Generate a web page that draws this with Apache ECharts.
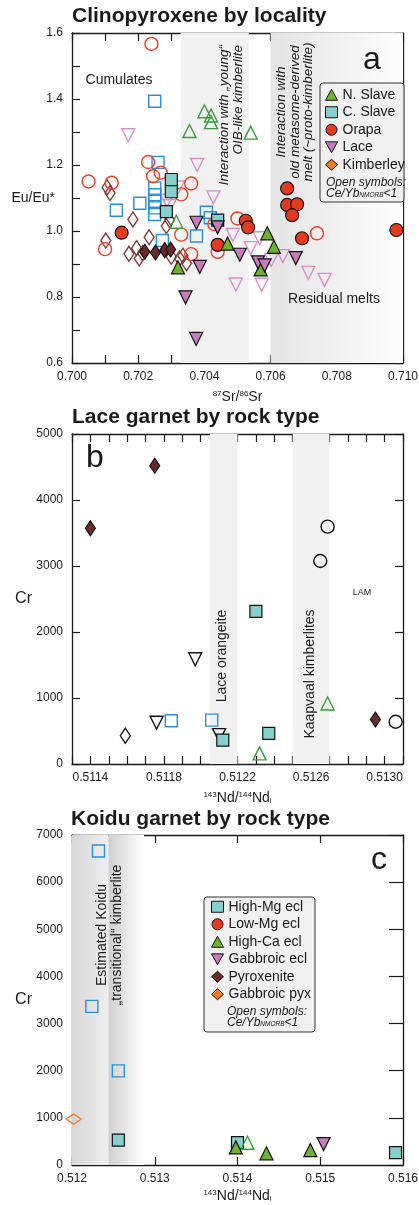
<!DOCTYPE html>
<html><head><meta charset="utf-8">
<script src="https://cdn.jsdelivr.net/npm/echarts@6/dist/echarts.min.js"></script>
<style>html,body{margin:0;padding:0;background:#fff}#c{width:419px;height:1205px}</style>
</head><body><div id="c"></div>
<script>
// ---------- Panel a: Clinopyroxene by locality (87Sr/86Sr vs Eu/Eu*) ----------
const nSlaveFilled = [[0.7032,0.890],[0.7047,0.962],[0.7059,0.993],[0.7061,0.952],[0.7057,0.884]];
const nSlaveOpen = [[0.7040,1.363],[0.7042,1.350],[0.7042,1.330],[0.70355,1.303],[0.7054,1.298],[0.70315,1.028]];
const cSlaveFilled = [[0.7030,1.156],[0.7030,1.119],[0.70285,1.059],[0.7044,1.033]];
const cSlaveOpen = [[0.7025,1.393],[0.7026,1.208],[0.7025,1.13],[0.7025,1.11],[0.7025,1.09],[0.7025,1.07],[0.7025,1.05],[0.70205,1.084],[0.70134,1.063],[0.70273,0.971],[0.70376,0.985],[0.70406,1.057],[0.70418,1.040]];
const orapaFilled = [[0.7015,0.995],[0.7044,0.958],[0.70525,1.031],[0.70532,1.011],[0.7065,1.129],[0.7065,1.079],[0.7068,1.081],[0.70665,1.048],[0.70695,0.978],[0.7098,1.003]];
const orapaOpen = [[0.7024,1.567],[0.7005,1.150],[0.7012,1.146],[0.7023,1.209],[0.70245,1.166],[0.70268,1.177],[0.7036,1.144],[0.7033,1.111],[0.7033,0.989],[0.7010,0.945],[0.7036,0.930],[0.7043,1.021],[0.7050,1.038],[0.7044,0.937],[0.7074,0.993]];
const laceFilled = [[0.70376,1.025],[0.7044,1.011],[0.70386,0.891],[0.70343,0.799],[0.70375,0.673],[0.70507,0.928],[0.70562,0.905],[0.70582,0.896],[0.70676,0.918]];
const laceOpen = [[0.7017,1.290],[0.70378,1.200],[0.70427,1.102],[0.7032,1.132],[0.70287,1.092],[0.70295,1.075],[0.70486,0.988],[0.7054,0.948],[0.70567,0.978],[0.70602,0.912],[0.70637,0.924],[0.70714,0.873],[0.70763,0.852],[0.70495,0.838],[0.70573,0.837]];
const kimberleyFilled = [[0.7022,0.937],[0.70252,0.935],[0.7028,0.942],[0.70298,0.944]];
const kimberleyOpen = [[0.70106,1.132],[0.70115,1.115],[0.70102,0.971],[0.70184,1.035],[0.70172,0.931],[0.70195,0.948],[0.70203,0.917],[0.70233,0.981],[0.70213,0.933],[0.70285,1.015],[0.70295,1.033],[0.70325,0.917],[0.70346,0.902],[0.703,0.922],[0.70335,0.925]];
const bandsA = [[0.70328,0.70534],[0.706,0.710]];
const aXLabels = ['0.700','0.702','0.704','0.706','0.708','0.710'];
const aYLabels = ['0.6','0.8','1.0','1.2','1.4','1.6'];

// ---------- Panel b: Lace garnet by rock type (143Nd/144Nd_i vs Cr) ----------
const bPyroxenite = [[0.51140,3571],[0.51175,4520],[0.51295,675]];
const bOpenCircle = [[0.51269,3596],[0.51265,3076],[0.51306,640]];
const bOpenDownTri = [[0.51197,1587],[0.51176,625],[0.51210,438]];
const bOpenDiamond = [[0.51159,428]];
const bOpenSquare = [[0.51184,655],[0.51206,665]];
const bHighMg = [[0.51230,2312],[0.51212,363],[0.51237,463]];
const bOpenTri = [[0.51269,917],[0.51232,161]];
const bandsB = [[0.51205,0.51220],[0.51250,0.51270]];
const bXLabels = ['0.5114','0.5118','0.5122','0.5126','0.5130'];
const bYLabels = ['0','1000','2000','3000','4000','5000'];

// ---------- Panel c: Koidu garnet by rock type ----------
const cHighMgOpen = [[0.51232,6660],[0.51224,3365],[0.51256,1996]];
const cHighMg = [[0.51256,529],[0.51400,473],[0.51591,261]];
const cGabPyxOpen = [[0.51202,974]];
const cHighCa = [[0.51398,374],[0.51435,247],[0.51488,317]];
const cHighCaOpen = [[0.51412,473]];
const cGabEcl = [[0.51504,444]];
const bandsC = [[0.512,0.51244],[0.51244,0.51287]];
const cXLabels = ['0.512','0.513','0.514','0.515','0.516'];
const cYLabels = ['0','1000','2000','3000','4000','5000','6000','7000'];

// ---------- styling ----------
const FONT = '"Liberation Sans", Arial, Helvetica, sans-serif';
const INK = '#1a1a1a';
const COL = {green:'#6db32c', greenO:'#3d9b3d', teal:'#86cfcf', red:'#e63a1e', redO:'#ef3d25',
  pink:'#c87cbc', pinkO:'#d48fcb', blue:'#2b8fd6', maroon:'#6b2a2a', maroonO:'#7d3a36', orange:'#f07d1c', black:'#222'};
const OPEN = 'rgba(255,255,255,0)';
const DOWN = 'path://M0,0L10,0L5,9Z';

const chart = echarts.init(document.getElementById('c'), null, {renderer:'canvas'});

const GRID_TOPS = [33, 434, 835];
const grids = GRID_TOPS.map(t => ({left:72, top:t, width:331, height:330, show:false, outerBoundsMode:'none', containLabel:false}));

function common(){
  return {axisLine:{show:true,onZero:false,lineStyle:{color:INK,width:1.3}},
    axisTick:{show:true,inside:true,length:8,lineStyle:{color:INK,width:1.2}},
    splitLine:{show:false}, minorTick:{show:false}, silent:true};
}
function mk(labels, digits){
  return v => { const s = digits<0 ? String(Math.round(v)) : v.toFixed(digits); return labels.includes(s) ? s : ''; };
}
function xMain(gi,min,max,interval,labels,digits,name,rich,gap){
  return Object.assign(common(), {type:'value', gridIndex:gi, position:'bottom', min, max, interval,
    axisLabel:{formatter:mk(labels,digits), fontSize:12, color:INK, margin:8, fontFamily:FONT, hideOverlap:false},
    name, nameLocation:'middle', nameGap:gap, nameMoveOverlap:false,
    nameTextStyle:{fontSize:14, color:INK, fontFamily:FONT, rich}});
}
function xMirror(gi,min,max,interval){
  return Object.assign(common(), {type:'value', gridIndex:gi, position:'top', min, max, interval, axisLabel:{show:false}});
}
function yMain(gi,min,max,interval,labels,digits,name,gap,nsize){
  return Object.assign(common(), {type:'value', gridIndex:gi, position:'left', min, max, interval,
    axisLabel:{formatter:mk(labels,digits), fontSize:12, color:INK, margin:9, fontFamily:FONT, hideOverlap:false},
    name, nameLocation:'middle', nameRotate:0, nameGap:gap, nameMoveOverlap:false,
    nameTextStyle:{fontSize:nsize, color:INK, fontFamily:FONT}});
}
function yMirror(gi,min,max,interval,len){
  const o = Object.assign(common(), {type:'value', gridIndex:gi, position:'right', min, max, interval, axisLabel:{show:false}});
  if (len) o.axisTick.length = len;
  return o;
}
const supRich = {sup:{fontSize:8, verticalAlign:'top', fontFamily:FONT, color:INK}, sub:{fontSize:8, verticalAlign:'bottom', fontFamily:FONT, color:INK}};

const xAxes = [
  xMain(0,0.700,0.710,0.001,aXLabels,3,'{sup|87}Sr/{sup|86}Sr',supRich,27), xMirror(0,0.700,0.710,0.001),
  xMain(1,0.5113,0.5131,0.0001,bXLabels,4,'{sup|143}Nd/{sup|144}Nd{sub|i}',supRich,27), xMirror(1,0.5113,0.5131,0.0001),
  xMain(2,0.512,0.516,0.001,cXLabels,3,'{sup|143}Nd/{sup|144}Nd{sub|i}',supRich,24), xMirror(2,0.512,0.516,0.001)
];
const yAxes = [
  yMain(0,0.6,1.6,0.1,aYLabels,1,'Eu/Eu*',17,14), yMirror(0,0.6,1.6,0.1),
  yMain(1,0,5000,1000,bYLabels,-1,'Cr',40,16), yMirror(1,0,5000,1000),
  yMain(2,0,7000,1000,cYLabels,-1,'Cr',40,16), yMirror(2,0,7000,1000,14)
];

function sc(name, data, gi, symbol, size, fill, stroke, extra){
  return Object.assign({type:'scatter', name, data, xAxisIndex:gi*2, yAxisIndex:gi*2, symbol, symbolSize:size,
    itemStyle:{color:fill, borderColor:stroke, borderWidth:1.2, opacity:1}, emphasis:{disabled:true}, silent:true, z:3, animation:false}, extra||{});
}
const filled = (name,data,gi,symbol,size,color,extra)=>sc(name,data,gi,symbol,size,color,'#111',extra);
const open = (name,data,gi,symbol,size,color,extra)=>{ const s = sc(name,data,gi,symbol,size,OPEN,color,extra); s.itemStyle.borderWidth=1.4; return s; };
const down = {symbolRotate:180};

function hgrad(a,b){ return {type:'linear',x:0,y:0,x2:1,y2:0,colorStops:[{offset:0,color:a},{offset:1,color:b}]}; }
function bandSeries(gi, bands, colors){
  return {type:'scatter', name:'bands'+gi, data:[], xAxisIndex:gi*2, yAxisIndex:gi*2, silent:true, z:1,
    markArea:{silent:true, label:{show:false}, data: bands.map((b,i)=>[{xAxis:b[0], itemStyle:{color:colors[i], borderWidth:0}},{xAxis:b[1]}])}};
}

const series = [
  bandSeries(0, bandsA, ['#f1f1f1', hgrad('#e4e4e4','#fdfdfd')]),
  bandSeries(1, bandsB, ['#f1f1f1','#f1f1f1']),
  bandSeries(2, bandsC, [hgrad('#d6d6d6','#eeeeee'), hgrad('#cfcfcf','#ffffff')]),
  // panel a
  open('Kimberley (open)', kimberleyOpen, 0, 'diamond', [10,15], COL.maroonO),
  open('Lace (open)', laceOpen, 0, 'triangle', 13, COL.pinkO, down),
  open('C. Slave (open)', cSlaveOpen, 0, 'rect', 12, COL.blue),
  open('Orapa (open)', orapaOpen, 0, 'circle', 13, COL.redO),
  open('N. Slave (open)', nSlaveOpen, 0, 'triangle', 13, COL.greenO),
  filled('Kimberley', kimberleyFilled, 0, 'diamond', [10,15], COL.maroon),
  filled('C. Slave', cSlaveFilled, 0, 'rect', 12, COL.teal),
  filled('Orapa', orapaFilled, 0, 'circle', 13, COL.red),
  filled('N. Slave', nSlaveFilled, 0, 'triangle', 13, COL.green),
  filled('Lace', laceFilled, 0, 'triangle', 13, COL.pink, down),
  // panel b
  filled('b Pyroxenite', bPyroxenite, 1, 'diamond', [10,15], COL.maroon),
  open('b open circle', bOpenCircle, 1, 'circle', 13, '#111'),
  open('b open down', bOpenDownTri, 1, 'triangle', 13, '#111', down),
  open('b open diamond', bOpenDiamond, 1, 'diamond', [10,15], '#111'),
  open('b open square', bOpenSquare, 1, 'rect', 12, COL.blue),
  filled('b High-Mg', bHighMg, 1, 'rect', 12, COL.teal),
  open('b open tri', bOpenTri, 1, 'triangle', 13, COL.greenO),
  // panel c
  open('High-Mg ecl (open)', cHighMgOpen, 2, 'rect', 12, COL.blue),
  open('Gabbroic pyx', cGabPyxOpen, 2, 'diamond', [15,10], COL.orange),
  filled('High-Mg ecl', cHighMg, 2, 'rect', 12, COL.teal),
  filled('Low-Mg ecl', [], 2, 'circle', 13, COL.red),
  open('High-Ca ecl (open)', cHighCaOpen, 2, 'triangle', 13, COL.greenO),
  filled('High-Ca ecl', cHighCa, 2, 'triangle', 13, COL.green),
  filled('Gabbroic ecl', cGabEcl, 2, 'triangle', 13, COL.pink, down),
  filled('Pyroxenite', [], 2, 'diamond', [10,15], COL.maroon)
];

const legBase = (left, top) => ({orient:'vertical', left, top, itemWidth:12, itemHeight:11, itemGap:0, padding:0, z:20,
  selectedMode:false, inactiveColor:INK, textStyle:{fontSize:14, color:INK, fontFamily:FONT, lineHeight:17.5}});
const li = (name, icon, color) => ({name, icon, itemStyle:{color, borderColor:'#111', borderWidth:1}});

const legends = [
  Object.assign(legBase(325, 86), {data:[
    li('N. Slave','triangle',COL.green), li('C. Slave','rect',COL.teal), li('Orapa','circle',COL.red),
    li('Lace',DOWN,COL.pink), li('Kimberley','diamond',COL.orange)]}),
  Object.assign(legBase(211, 898), {data:[
    li('High-Mg ecl','rect',COL.teal), li('Low-Mg ecl','circle',COL.red), li('High-Ca ecl','triangle',COL.green),
    li('Gabbroic ecl',DOWN,COL.pink), li('Pyroxenite','diamond',COL.maroon), li('Gabbroic pyx','diamond',COL.orange)]})
];

function txt(x,y,text,size,extra,styleExtra){
  return Object.assign({type:'text', x, y, z:21, silent:true,
    style:Object.assign({text, fontSize:size, fontFamily:FONT, fill:INK, align:'center', verticalAlign:'middle'}, styleExtra||{})}, extra||{});
}
const ROT = {rotation:Math.PI/2};
const noteRich = {fontSize:12, fontStyle:'italic', fontFamily:FONT, fill:INK, align:'left', verticalAlign:'top', lineHeight:11,
  rich:{s:{fontSize:6.5, fontStyle:'italic', fontFamily:FONT, verticalAlign:'bottom', lineHeight:11}}};

const graphics = [
  {type:'rect', z:15, silent:true, shape:{x:320, y:83, width:84, height:119, r:3}, style:{fill:'#f0f0f0', stroke:'#333', lineWidth:1}},
  {type:'rect', z:15, silent:true, shape:{x:204, y:897, width:111, height:135, r:3}, style:{fill:'#f0f0f0', stroke:'#333', lineWidth:1}},
  txt(326, 177, 'Open symbols:\nCe/Yb{s|NMORB}<1', 12, {}, noteRich),
  txt(227, 1006, 'Open symbols:\nCe/Yb{s|NMORB}<1', 12, {}, noteRich),
  // panel a annotations
  txt(119, 80, 'Cumulates', 14),
  txt(372, 60, 'a', 32),
  txt(334, 299, 'Residual melts', 14),
  txt(231, 45, 'Interaction with \u201Eyoung\u201C\nOIB-like kimberlite', 13.5, ROT, {fontStyle:'italic', align:'right', lineHeight:14}),
  txt(295, 112, 'Interaction with\nold metasome-derived\nmelt (~proto-kimberlite)', 13.5, ROT, {fontStyle:'italic', lineHeight:13.5}),
  // panel b
  txt(95, 458, 'b', 32),
  txt(362, 593, 'LAM', 9),
  txt(222, 656, 'Lace orangeite', 14, ROT),
  txt(310, 674, 'Kaapvaal kimberlites', 14, ROT),
  // panel c
  txt(379, 860, 'c', 32),
  txt(110, 935, 'Estimated Koidu\n\u201Etransitional\u201C kimberlite', 14, ROT, {lineHeight:15})
];

const titleStyle = {fontSize:21, fontWeight:'bold', color:INK, fontFamily:FONT};
chart.setOption({
  animation:false,
  textStyle:{fontFamily:FONT},
  title:[
    {text:'Clinopyroxene by locality', left:72, top:6, padding:0, textStyle:titleStyle},
    {text:'Lace garnet by rock type', left:72, top:407, padding:0, textStyle:titleStyle},
    {text:'Koidu garnet by rock type', left:71, top:809, padding:0, textStyle:titleStyle}
  ],
  grid: grids,
  xAxis: xAxes,
  yAxis: yAxes,
  legend: legends,
  series,
  graphic: graphics
});
</script>
</body></html>
